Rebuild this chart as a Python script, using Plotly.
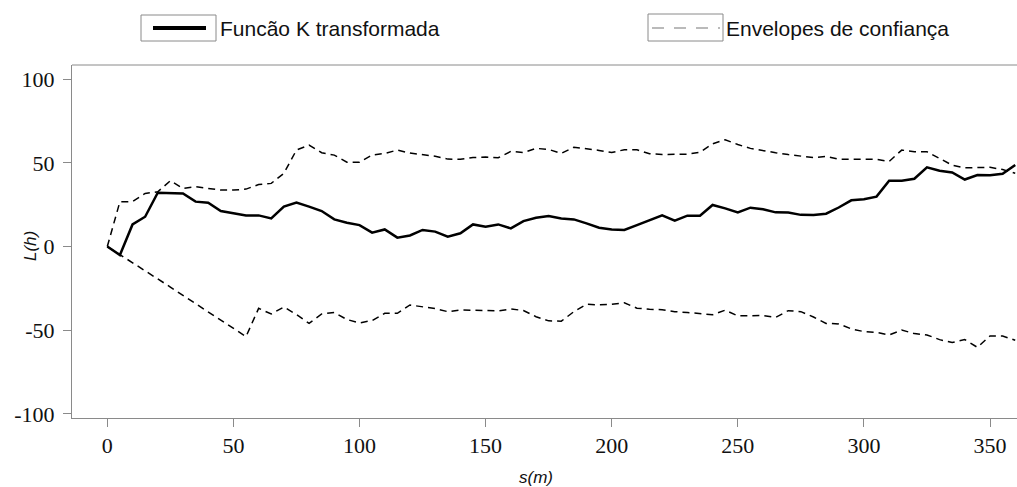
import plotly.graph_objects as go

# ---- data ----
s_m = list(range(0, 365, 5))

k_transformada = [
    0, -5.1, 13.2, 17.8, 32.1, 32.1, 31.7, 26.8, 26.2, 21.2,
    19.8, 18.6, 18.6, 16.8, 23.8, 26.2, 23.8, 21.2, 16.2, 14.2,
    12.8, 8.3, 10.2, 5.3, 6.6, 9.9, 8.9, 5.9, 7.9, 13.2,
    11.8, 13.2, 10.8, 15.2, 17.2, 18.2, 16.8, 16.2, 13.8, 11.2,
    10.2, 9.9, 12.8, 15.8, 18.6, 15.4, 18.4, 18.4, 24.8, 22.8,
    20.3, 23.2, 22.2, 20.4, 20.3, 18.9, 18.8, 19.6, 23.3, 27.6,
    28.2, 29.8, 39.3, 39.3, 40.5, 47.3, 45.3, 44.2, 40.0, 42.7,
    42.5, 43.4, 48.7,
]

envelope_sup = [
    0, 26.8, 26.8, 31.7, 32.7, 39.3, 34.7, 35.7, 34.7, 33.7,
    33.7, 34.3, 37.0, 37.7, 43.7, 57.6, 60.6, 56.0, 54.6, 50.4,
    50.4, 54.6, 55.6, 57.6, 55.8, 54.8, 53.9, 52.2, 52.1, 53.1,
    53.4, 53.0, 56.8, 56.1, 58.6, 58.0, 55.6, 59.3, 58.4, 57.4,
    56.1, 57.8, 57.8, 55.4, 55.0, 55.0, 55.1, 56.3, 61.3, 63.8,
    60.9, 58.6, 57.2, 56.0, 54.9, 53.9, 53.1, 53.8, 52.1, 52.1,
    52.1, 52.1, 50.8, 57.6, 56.6, 56.6, 52.6, 48.6, 47.0, 47.3,
    47.3, 46.0, 43.7,
]

envelope_inf = [
    0, -4.8, -9.4, -14.4, -19.3, -24.2, -29.2, -34.1, -39.1, -44.0,
    -48.9, -53.8, -36.9, -40.3, -36.1, -40.6, -45.9, -40.3, -39.4, -43.6,
    -45.6, -44.2, -39.9, -39.9, -34.9, -35.9, -37.1, -38.9, -37.9, -38.1,
    -38.4, -38.4, -37.3, -38.2, -41.9, -44.4, -44.6, -38.9, -34.5, -34.8,
    -34.5, -33.6, -36.8, -37.5, -37.7, -38.9, -39.4, -39.9, -40.7, -38.0,
    -41.4, -41.4, -41.2, -42.3, -38.3, -38.9, -42.1, -45.9, -46.2, -49.2,
    -50.8, -51.3, -52.8, -49.9, -52.0, -52.8, -55.6, -57.3, -55.6, -60.2,
    -53.4, -53.4, -56.0,
]

y_ticks = [-100, -50, 0, 50, 100]
x_ticks = [0, 50, 100, 150, 200, 250, 300, 350]

legend_labels = ["Funcão K transformada", "Envelopes de confiança"]
x_title = "s(m)"
y_title = "L(h)"

# ---- layout geometry ----
W, H = 1017, 487
ML, MR, MT, MB = 72, 0, 65, 69
PW, PH = W - ML - MR, H - MT - MB


def px(x):
    return (x - ML) / PW


def py(y):
    return (H - MB - y) / PH


AXIS_GRAY = "#8a8a8a"
DASH = "7px,5px"

fig = go.Figure()
fig.add_trace(go.Scatter(x=s_m, y=envelope_sup, mode="lines",
                         line=dict(color="black", width=1.5, dash=DASH),
                         showlegend=False, cliponaxis=True))
fig.add_trace(go.Scatter(x=s_m, y=envelope_inf, mode="lines",
                         line=dict(color="black", width=1.5, dash=DASH),
                         showlegend=False, cliponaxis=True))
fig.add_trace(go.Scatter(x=s_m, y=k_transformada, mode="lines",
                         line=dict(color="black", width=2.5),
                         showlegend=False, cliponaxis=True))

tick_font = dict(family="Liberation Serif", size=22, color="#111111")

fig.update_layout(
    width=W, height=H,
    margin=dict(l=ML, r=MR, t=MT, b=MB, pad=0),
    paper_bgcolor="white", plot_bgcolor="white",
    xaxis=dict(range=[-14.0, 360.7], tickvals=x_ticks, ticktext=[str(v) for v in x_ticks],
               ticks="outside", ticklen=8, tickwidth=1, tickcolor=AXIS_GRAY,
               showline=True, linecolor=AXIS_GRAY, linewidth=1,
               showgrid=False, zeroline=False, tickfont=tick_font),
    yaxis=dict(range=[-102.4, 108.4], tickvals=y_ticks, ticktext=[str(v) for v in y_ticks],
               ticks="outside", ticklen=8, tickwidth=1, tickcolor=AXIS_GRAY,
               ticklabelstandoff=4,
               showline=True, linecolor=AXIS_GRAY, linewidth=1,
               showgrid=False, zeroline=False, tickfont=tick_font),
)

shapes = [
    # top frame line
    dict(type="line", xref="paper", yref="paper", x0=0, x1=1, y0=1, y1=1,
         line=dict(color=AXIS_GRAY, width=1)),
    # legend box 1
    dict(type="rect", xref="paper", yref="paper", x0=px(141), x1=px(216), y0=py(41), y1=py(15),
         line=dict(color=AXIS_GRAY, width=1), fillcolor="white"),
    dict(type="line", xref="paper", yref="paper", x0=px(153), x1=px(206), y0=py(28), y1=py(28),
         line=dict(color="black", width=4)),
    # legend box 2
    dict(type="rect", xref="paper", yref="paper", x0=px(648), x1=px(723), y0=py(41), y1=py(14),
         line=dict(color=AXIS_GRAY, width=1), fillcolor="white"),
    dict(type="line", xref="paper", yref="paper", x0=px(652), x1=px(720), y0=py(28), y1=py(28),
         line=dict(color="#777777", width=1.2, dash="12px,10px")),
]

label_font = dict(family="Liberation Sans", size=21, color="#111111")
annotations = [
    dict(text=legend_labels[0], xref="paper", yref="paper", x=px(218), y=py(28),
         xanchor="left", yanchor="middle", showarrow=False, font=label_font),
    dict(text=legend_labels[1], xref="paper", yref="paper", x=px(724), y=py(28),
         xanchor="left", yanchor="middle", showarrow=False, font=label_font),
    dict(text="<i>" + x_title + "</i>", xref="paper", yref="paper", x=px(536), y=py(478),
         xanchor="center", yanchor="middle", showarrow=False,
         font=dict(family="Liberation Sans", size=17, color="#111111")),
    dict(text="<i>" + y_title + "</i>", xref="paper", yref="paper", x=px(30), y=py(246),
         xanchor="center", yanchor="middle", showarrow=False, textangle=-90,
         font=dict(family="Liberation Sans", size=17, color="#111111")),
]

fig.update_layout(shapes=shapes, annotations=annotations)

fig.write_html("out.html")
